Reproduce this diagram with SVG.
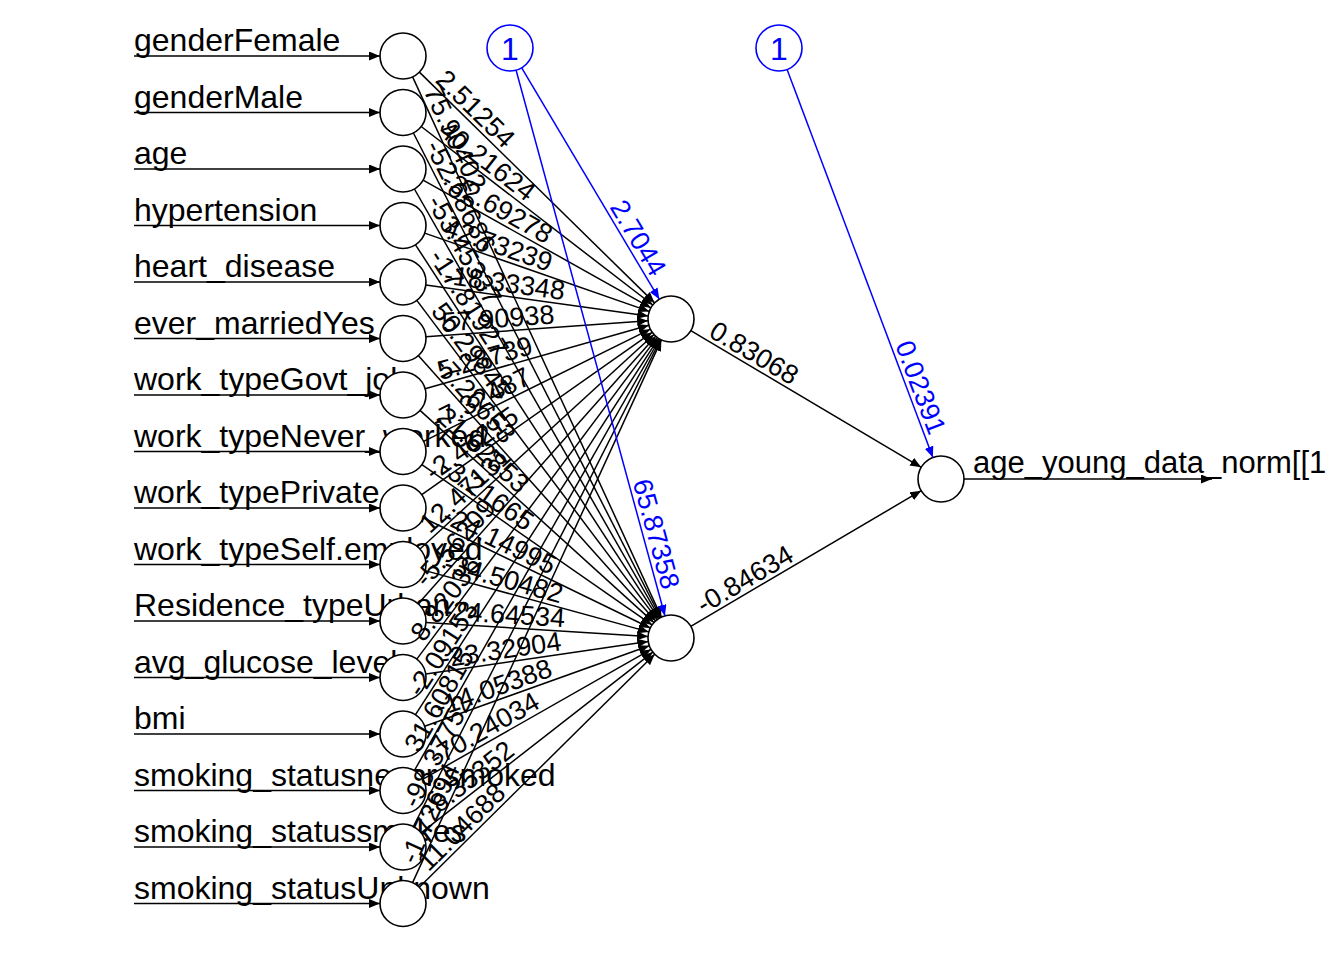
<svg xmlns="http://www.w3.org/2000/svg" width="1344" height="960" viewBox="0 0 1344 960">
<style>
.lbl{font-family:"Liberation Sans",Arial,sans-serif;font-size:32px;fill:#000}
.w{font-family:"Liberation Sans",Arial,sans-serif;font-size:27px;fill:#000}
.wb{font-family:"Liberation Sans",Arial,sans-serif;font-size:27px;fill:#0000ff;text-anchor:end}
.node circle{fill:#fff;stroke:#000;stroke-width:1.6}
.bias circle{fill:#fff;stroke:#0000ff;stroke-width:1.6}
.bias text{font-family:"Liberation Sans",Arial,sans-serif;font-size:32px;fill:#0000ff;text-anchor:middle}
.syn{stroke:#000;stroke-width:1.5;fill:none;marker-end:url(#ah)}
.bsyn{stroke:#0000ff;stroke-width:1.5;fill:none;marker-end:url(#ahb)}
</style>
<defs>
<marker id="ah" markerUnits="userSpaceOnUse" markerWidth="11" markerHeight="9" refX="11" refY="4.5" orient="auto"><path d="M0,0 L11,4.5 L0,9 z" fill="#000"/></marker>
<marker id="ahb" markerUnits="userSpaceOnUse" markerWidth="11" markerHeight="9" refX="11" refY="4.5" orient="auto"><path d="M0,0 L11,4.5 L0,9 z" fill="#0000ff"/></marker>
</defs>
<rect width="1344" height="960" fill="#fff"/>

<g id="in0" class="node"><text class="lbl" x="134" y="51">genderFemale</text><circle cx="403" cy="56" r="23"/></g>
<g id="in1" class="node"><text class="lbl" x="134" y="107.5">genderMale</text><circle cx="403" cy="112.5" r="23"/></g>
<g id="in2" class="node"><text class="lbl" x="134" y="164">age</text><circle cx="403" cy="169" r="23"/></g>
<g id="in3" class="node"><text class="lbl" x="134" y="220.5">hypertension</text><circle cx="403" cy="225.5" r="23"/></g>
<g id="in4" class="node"><text class="lbl" x="134" y="277">heart_disease</text><circle cx="403" cy="282" r="23"/></g>
<g id="in5" class="node"><text class="lbl" x="134" y="333.5">ever_marriedYes</text><circle cx="403" cy="338.5" r="23"/></g>
<g id="in6" class="node"><text class="lbl" x="134" y="390">work_typeGovt_job</text><circle cx="403" cy="395" r="23"/></g>
<g id="in7" class="node"><text class="lbl" x="134" y="446.5">work_typeNever_worked</text><circle cx="403" cy="451.5" r="23"/></g>
<g id="in8" class="node"><text class="lbl" x="134" y="503">work_typePrivate</text><circle cx="403" cy="508" r="23"/></g>
<g id="in9" class="node"><text class="lbl" x="134" y="559.5">work_typeSelf.employed</text><circle cx="403" cy="564.5" r="23"/></g>
<g id="in10" class="node"><text class="lbl" x="134" y="616">Residence_typeUrban</text><circle cx="403" cy="621" r="23"/></g>
<g id="in11" class="node"><text class="lbl" x="134" y="672.5">avg_glucose_level</text><circle cx="403" cy="677.5" r="23"/></g>
<g id="in12" class="node"><text class="lbl" x="134" y="729">bmi</text><circle cx="403" cy="734" r="23"/></g>
<g id="in13" class="node"><text class="lbl" x="134" y="785.5">smoking_statusnever.smoked</text><circle cx="403" cy="790.5" r="23"/></g>
<g id="in14" class="node"><text class="lbl" x="134" y="842">smoking_statussmokes</text><circle cx="403" cy="847" r="23"/></g>
<g id="in15" class="node"><text class="lbl" x="134" y="898.5">smoking_statusUnknown</text><circle cx="403" cy="903.5" r="23"/></g>

<g id="hid1" class="node"><circle cx="671" cy="319" r="23"/></g>
<g id="hid2" class="node"><circle cx="671" cy="638" r="23"/></g>
<g id="out" class="node"><circle cx="941" cy="479" r="23"/><text class="lbl" x="973" y="473" style="font-size:31px">age_young_data_norm[[1</text></g>
<g id="bias1" class="bias"><circle cx="510" cy="48" r="23"/><text x="510" y="59.5">1</text></g>
<g id="bias2" class="bias"><circle cx="779" cy="48" r="23"/><text x="779" y="59.5">1</text></g>

<g id="connectors">
<path class="syn" d="M134,56H380"/>
<path class="syn" d="M134,112.5H380"/>
<path class="syn" d="M134,169H380"/>
<path class="syn" d="M134,225.5H380"/>
<path class="syn" d="M134,282H380"/>
<path class="syn" d="M134,338.5H380"/>
<path class="syn" d="M134,395H380"/>
<path class="syn" d="M134,451.5H380"/>
<path class="syn" d="M134,508H380"/>
<path class="syn" d="M134,564.5H380"/>
<path class="syn" d="M134,621H380"/>
<path class="syn" d="M134,677.5H380"/>
<path class="syn" d="M134,734H380"/>
<path class="syn" d="M134,790.5H380"/>
<path class="syn" d="M134,847H380"/>
<path class="syn" d="M134,903.5H380"/>
<path class="syn" d="M964,479H1212"/>

<path class="syn" d="M419.4,72.1L654.6,302.9"/>
<path class="syn" d="M412.6,76.9L661.4,617.1"/>
<path class="syn" d="M421.2,126.5L652.8,305.0"/>
<path class="syn" d="M413.4,133.0L660.6,617.5"/>
<path class="syn" d="M423.1,180.2L650.9,307.8"/>
<path class="syn" d="M414.4,189.0L659.6,618.0"/>
<path class="syn" d="M424.7,233.1L649.3,311.4"/>
<path class="syn" d="M415.5,244.8L658.5,618.7"/>
<path class="syn" d="M425.8,285.1L648.2,315.9"/>
<path class="syn" d="M416.8,300.4L657.2,619.6"/>
<path class="syn" d="M425.9,336.8L648.1,320.7"/>
<path class="syn" d="M418.3,355.6L655.7,620.9"/>
<path class="syn" d="M425.1,388.7L648.9,325.3"/>
<path class="syn" d="M420.0,410.4L654.0,622.6"/>
<path class="syn" d="M423.6,441.3L650.4,329.2"/>
<path class="syn" d="M421.9,464.6L652.1,624.9"/>
<path class="syn" d="M421.8,494.7L652.2,332.3"/>
<path class="syn" d="M423.7,518.0L650.3,628.0"/>
<path class="syn" d="M420.0,549.0L654.0,334.5"/>
<path class="syn" d="M425.2,570.6L648.8,631.9"/>
<path class="syn" d="M418.3,603.8L655.7,336.2"/>
<path class="syn" d="M426.0,622.5L648.0,636.5"/>
<path class="syn" d="M416.8,659.1L657.2,337.4"/>
<path class="syn" d="M425.8,674.1L648.2,641.4"/>
<path class="syn" d="M415.5,714.7L658.5,338.3"/>
<path class="syn" d="M424.7,726.2L649.3,645.8"/>
<path class="syn" d="M414.4,770.5L659.6,339.0"/>
<path class="syn" d="M423.0,779.1L651.0,649.4"/>
<path class="syn" d="M413.4,826.5L660.6,339.5"/>
<path class="syn" d="M421.1,832.9L652.9,652.1"/>
<path class="syn" d="M412.6,882.6L661.4,339.9"/>
<path class="syn" d="M419.3,887.3L654.7,654.2"/>

<path class="syn" d="M690.8,330.7L921.2,467.3"/>
<path class="syn" d="M690.8,626.3L921.2,490.7"/>

<path class="bsyn" d="M521.7,67.8L659.3,299.2"/>
<path class="bsyn" d="M516.1,70.2L664.9,615.8"/>
<path class="bsyn" d="M787.1,69.5L932.9,457.5"/>

<text class="w" transform="translate(431.5,84.0) rotate(44.46)" y="-4">2.51254</text>
<text class="w" transform="translate(419.7,92.3) rotate(65.27)" y="-4">75.90402</text>
<text class="w" transform="translate(434.7,136.9) rotate(37.62)" y="-4">40.21624</text>
<text class="w" transform="translate(421.2,148.1) rotate(62.98)" y="-4">-52.68686</text>
<text class="w" transform="translate(437.9,188.5) rotate(29.24)" y="-4">-32.69278</text>
<text class="w" transform="translate(422.8,203.7) rotate(60.26)" y="-4">-53.45337</text>
<text class="w" transform="translate(440.8,238.7) rotate(19.23)" y="-4">42.73239</text>
<text class="w" transform="translate(424.8,259.0) rotate(56.99)" y="-4">-17.81927</text>
<text class="w" transform="translate(442.6,287.5) rotate(7.86)" y="-4">-18.33348</text>
<text class="w" transform="translate(427.1,314.0) rotate(53.03)" y="-4">50.29845</text>
<text class="w" transform="translate(442.9,335.6) rotate(-4.16)" y="-4">57.90938</text>
<text class="w" transform="translate(429.7,368.3) rotate(48.18)" y="-4">-7.26653</text>
<text class="w" transform="translate(441.5,384.1) rotate(-15.83)" y="-4">5.28739</text>
<text class="w" transform="translate(432.6,421.9) rotate(42.2)" y="-4">21.62853</text>
<text class="w" transform="translate(438.9,433.8) rotate(-26.31)" y="-4">-7.32487</text>
<text class="w" transform="translate(435.8,474.3) rotate(34.84)" y="-4">-3.21665</text>
<text class="w" transform="translate(435.7,485.0) rotate(-35.19)" y="-4">-2.46215</text>
<text class="w" transform="translate(439.0,525.5) rotate(25.88)" y="-4">-24.14995</text>
<text class="w" transform="translate(432.5,537.5) rotate(-42.49)" y="-4">12.47131</text>
<text class="w" transform="translate(441.6,575.1) rotate(15.34)" y="-4">-34.50482</text>
<text class="w" transform="translate(429.5,591.1) rotate(-48.42)" y="-4">-5.56209</text>
<text class="w" transform="translate(442.9,623.5) rotate(3.63)" y="-4">-24.64534</text>
<text class="w" transform="translate(427.0,645.5) rotate(-53.22)" y="-4">8.82036</text>
<text class="w" transform="translate(442.6,671.7) rotate(-8.38)" y="-4">-23.32904</text>
<text class="w" transform="translate(424.7,700.4) rotate(-57.14)" y="-4">-2.09153</text>
<text class="w" transform="translate(440.7,720.5) rotate(-19.71)" y="-4">-14.05388</text>
<text class="w" transform="translate(422.8,755.7) rotate(-60.39)" y="-4">31.60815</text>
<text class="w" transform="translate(437.8,770.7) rotate(-29.64)" y="-4">-70.24034</text>
<text class="w" transform="translate(421.1,811.3) rotate(-63.09)" y="-4">-98.37752</text>
<text class="w" transform="translate(434.5,822.4) rotate(-37.95)" y="-4">-8.35352</text>
<text class="w" transform="translate(419.7,867.1) rotate(-65.37)" y="-4">-1.72694</text>
<text class="w" transform="translate(431.4,875.4) rotate(-44.74)" y="-4">11.04688</text>

<text class="w" transform="translate(705.4,339.4) rotate(30.65)" y="-4">0.83068</text>
<text class="w" transform="translate(705.5,617.7) rotate(-30.49)" y="-4">-0.84634</text>

<text class="wb" transform="translate(647.9,280.1) rotate(59.28)" y="-4">2.7044</text>
<text class="wb" transform="translate(658.4,591.7) rotate(74.74)" y="-4">65.87358</text>
<text class="wb" transform="translate(925.5,437.8) rotate(69.40)" y="-4">0.02391</text>
</g>
</svg>
